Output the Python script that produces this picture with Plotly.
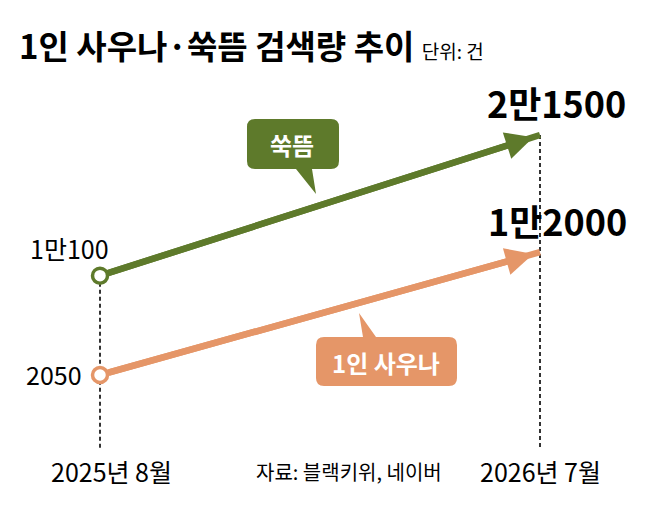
import plotly.graph_objects as go

# data
months = ["2025년 8월", "2026년 7월"]
ssuk = [10100, 21500]          # 쑥뜸
sauna = [2050, 12000]          # 1인 사우나
ssuk_text = ["1만100", "2만1500"]
sauna_text = ["2050", "1만2000"]

# the page body has an 8px margin, so the figure is a bit smaller than the window
OFF = 8
W, H = 658 - OFF, 517 - OFF
FONT = "Noto Sans CJK KR"
GREEN = "#5e7a2b"
ORANGE = "#e59668"

xs = list(range(len(months)))


def px(x):
    return (x - OFF) / W


def py(y):
    return 1 - (y - OFF) / H


def pp(x, y):
    return f"{px(x):.5f},{py(y):.5f}"


def callout(x0, y0, x1, y1, r, tail, side):
    # rounded box with a pointed tail on the top or bottom edge
    ta, tb, tip = tail
    d = "M" + pp(x0 + r, y0)
    if side == "top":
        d += " L" + pp(ta, y0) + " L" + pp(*tip) + " L" + pp(tb, y0)
    d += " L" + pp(x1 - r, y0) + " Q" + pp(x1, y0) + " " + pp(x1, y0 + r)
    d += " L" + pp(x1, y1 - r) + " Q" + pp(x1, y1) + " " + pp(x1 - r, y1)
    if side == "bottom":
        d += " L" + pp(tb, y1) + " L" + pp(*tip) + " L" + pp(ta, y1)
    d += " L" + pp(x0 + r, y1) + " Q" + pp(x0, y1) + " " + pp(x0, y1 - r)
    d += " L" + pp(x0, y0 + r) + " Q" + pp(x0, y0) + " " + pp(x0 + r, y0) + " Z"
    return d


def paper_text(x, y, text, size, color="black", xanchor="center"):
    fig.add_annotation(x=px(x), y=py(y), xref="paper", yref="paper",
                       xanchor=xanchor, yanchor="middle", text=text, showarrow=False,
                       font=dict(family=FONT, size=size, color=color))


fig = go.Figure()

for vals, color in [(ssuk, GREEN), (sauna, ORANGE)]:
    fig.add_trace(go.Scatter(
        x=xs, y=vals, mode="lines",
        line=dict(color=color, width=6.5),
        hoverinfo="skip", showlegend=False,
    ))
    fig.add_annotation(
        x=xs[-1], y=vals[-1], ax=xs[0], ay=vals[0],
        xref="x", yref="y", axref="x", ayref="y",
        text="", showarrow=True, arrowhead=2, arrowsize=0.85,
        arrowwidth=6.5, arrowcolor=color, standoff=7, startstandoff=8,
    )
    fig.add_trace(go.Scatter(
        x=xs[:1], y=vals[:1], mode="markers",
        marker=dict(size=15, color="white", line=dict(color=color, width=3.5)),
        hoverinfo="skip", showlegend=False,
    ))

# dashed guides from the highest value at each month down to the labels
for i in xs:
    top = max(ssuk[i], sauna[i])
    fig.add_shape(type="line", xref="x", yref="y", x0=i, x1=i, y0=top, y1=-3870,
                  line=dict(color="black", width=1.6, dash="4px,3px"), layer="below")

# value labels
fig.add_annotation(x=xs[0], y=ssuk[0], text=ssuk_text[0], showarrow=False,
                   xanchor="right", yanchor="middle", xshift=11, yshift=28,
                   font=dict(family=FONT, size=25, color="black"))
fig.add_annotation(x=xs[0], y=sauna[0], text=sauna_text[0], showarrow=False,
                   xanchor="right", yanchor="middle", xshift=-16, yshift=1,
                   font=dict(family=FONT, size=25, color="black"))
fig.add_annotation(x=xs[1], y=ssuk[1], text="<b>" + ssuk_text[1] + "</b>", showarrow=False,
                   xanchor="center", yanchor="middle", xshift=16, yshift=33,
                   font=dict(family=FONT, size=36, color="black"))
fig.add_annotation(x=xs[1], y=sauna[1], text="<b>" + sauna_text[1] + "</b>", showarrow=False,
                   xanchor="center", yanchor="middle", xshift=17, yshift=32,
                   font=dict(family=FONT, size=36, color="black"))

# month labels
for i, m in zip(xs, months):
    fig.add_annotation(x=i, y=py(471), yref="paper", text=m, showarrow=False,
                       xanchor="center", yanchor="middle",
                       xshift=11 if i == 0 else 0,
                       font=dict(family=FONT, size=25, color="black"))

paper_text(349, 471, "자료: 블랙키위, 네이버", 20)

# title
paper_text(17, 45, "<b>1인 사우나·쑥뜸 검색량 추이</b> <span style='font-size:19px'>단위: 건</span>",
           33, xanchor="left")

# callouts
fig.add_shape(type="path", xref="paper", yref="paper", line_width=0, fillcolor=GREEN,
              path=callout(247, 119, 339, 169, 8, (296, 312, (316, 194)), "bottom"))
paper_text(292, 144, "<b>쑥뜸</b>", 24, "white")
fig.add_shape(type="path", xref="paper", yref="paper", line_width=0, fillcolor=ORANGE,
              path=callout(316, 337, 457, 386, 8, (363, 376, (359, 313)), "top"))
paper_text(386, 362, "<b>1인 사우나</b>", 24, "white")

fig.update_layout(
    width=W, height=H,
    margin=dict(l=0, r=0, t=0, b=0),
    paper_bgcolor="white", plot_bgcolor="white",
    xaxis=dict(range=[-92 / 440, 1 + 118 / 440], visible=False, fixedrange=True),
    yaxis=dict(range=[-9458, 31792], visible=False, fixedrange=True),
)

fig.write_html("out.html")
